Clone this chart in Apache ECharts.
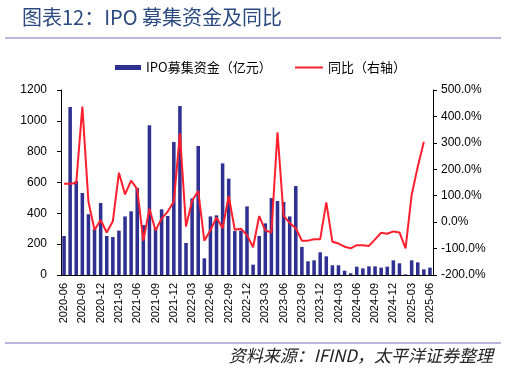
<!DOCTYPE html>
<html>
<head>
<meta charset="utf-8">
<script src="https://cdn.jsdelivr.net/npm/echarts@6/dist/echarts.min.js"></script>
<style>
html,body{margin:0;padding:0;background:#fff;}
#c{width:507px;height:372px;}
</style>
</head>
<body>
<div id="c"></div>
<script>
// categories: months 2020-06 .. 2025-06
const months = [
 '2020-06','2020-07','2020-08','2020-09','2020-10','2020-11','2020-12',
 '2021-01','2021-02','2021-03','2021-04','2021-05','2021-06','2021-07','2021-08','2021-09','2021-10','2021-11','2021-12',
 '2022-01','2022-02','2022-03','2022-04','2022-05','2022-06','2022-07','2022-08','2022-09','2022-10','2022-11','2022-12',
 '2023-01','2023-02','2023-03','2023-04','2023-05','2023-06','2023-07','2023-08','2023-09','2023-10','2023-11','2023-12',
 '2024-01','2024-02','2024-03','2024-04','2024-05','2024-06','2024-07','2024-08','2024-09','2024-10','2024-11','2024-12',
 '2025-01','2025-02','2025-03','2025-04','2025-05','2025-06'
];
// IPO fundraising (100 million yuan)
const ipoAmount = [
 253,1090,610,532,394,298,467,
 253,246,288,380,413,564,324,971,303,426,383,863,
 1096,208,497,837,108,380,387,724,625,285,288,445,
 67,253,335,499,480,474,380,577,182,89,95,147,
 121,63,63,28,11,54,43,56,56,48,54,95,
 76,4,95,82,37,48
];
// YoY (%), right axis
const yoy = [
 145,145,148,437,77,-30,8,
 -39,3,187,105,157,125,-71,51,-32,14,40,77,
 336,-17,81,118,-70,-31,18,-23,99,-29,-25,-49,
 -95,23,-31,-39,340,24,-3,-23,-70,-70,-65,-65,
 75,-74,-81,-93,-99,-87,-87,-90,-65,-40,-44,-35,
 -39,-99,103,210,304,null
];
const seriesNames = ['IPO募集资金（亿元）','同比（右轴）'];

const chart = echarts.init(document.getElementById('c'), null, {renderer:'canvas'});
const cjk = '"Noto Sans CJK SC", "Noto Sans", sans-serif';
const axisText = {color:'#000', fontSize:12, fontFamily:'"Liberation Sans", Arial, sans-serif'};
chart.setOption({
  animation:false,
  backgroundColor:'#fff',
  title:{
    text:'图表12：IPO 募集资金及同比',
    left:17, top:2,
    textStyle:{color:'#2B4A80', fontSize:20, fontWeight:'normal', fontFamily:cjk}
  },
  graphic:[
    {type:'line', shape:{x1:5,y1:38,x2:501,y2:38}, style:{stroke:'#9C9FD0', lineWidth:1.5}},
    {type:'line', shape:{x1:5,y1:343,x2:501,y2:343}, style:{stroke:'#9C9FD0', lineWidth:1.5}},
    {type:'text', right:14, top:347, style:{text:'资料来源：IFIND，太平洋证券整理', fill:'#222', font:'italic 17px "Noto Sans CJK SC", sans-serif'}}
  ],
  legend:[
    {
      left:110, top:56,
      itemWidth:26, itemHeight:5,
      textStyle:{color:'#000', fontSize:13, fontFamily:cjk},
      data:[{name:seriesNames[0], icon:'rect'}]
    },
    {
      left:290, top:56,
      itemWidth:28, itemHeight:2,
      textStyle:{color:'#000', fontSize:13, fontFamily:cjk},
      data:[{name:seriesNames[1], icon:'rect', itemStyle:{color:'#FF1F2D'}}]
    }
  ],
  grid:{left:61, right:74, top:90, bottom:97, containLabel:false},
  xAxis:{
    type:'category',
    data:months,
    boundaryGap:true,
    axisLine:{lineStyle:{color:'#000', width:1}},
    axisTick:{show:false},
    axisLabel:{interval:2, rotate:90, margin:8, color:'#000', fontSize:11, fontFamily:'"Liberation Sans", Arial, sans-serif'}
  },
  yAxis:[
    {
      type:'value', min:0, max:1200, interval:200,
      splitLine:{show:false},
      axisLine:{show:true, lineStyle:{color:'#000'}},
      axisTick:{show:true, length:4, lineStyle:{color:'#000'}},
      axisLabel:Object.assign({margin:14, formatter:function(v){return String(v);}}, axisText)
    },
    {
      type:'value', min:-200, max:500, interval:100,
      splitLine:{show:false},
      axisLine:{show:true, lineStyle:{color:'#000'}},
      axisTick:{show:true, length:4, lineStyle:{color:'#000'}},
      axisLabel:Object.assign({margin:8, formatter:function(v){return v.toFixed(1)+'%';}}, axisText)
    }
  ],
  series:[
    {
      name:seriesNames[0], type:'bar', data:ipoAmount, yAxisIndex:0,
      barWidth:'58%',
      itemStyle:{color:'#2E3192'}
    },
    {
      name:seriesNames[1], type:'line', data:yoy, yAxisIndex:1,
      symbol:'none', connectNulls:false,
      lineStyle:{color:'#FF1F2D', width:2},
      itemStyle:{color:'#FF1F2D'}
    }
  ]
});
</script>
</body>
</html>
